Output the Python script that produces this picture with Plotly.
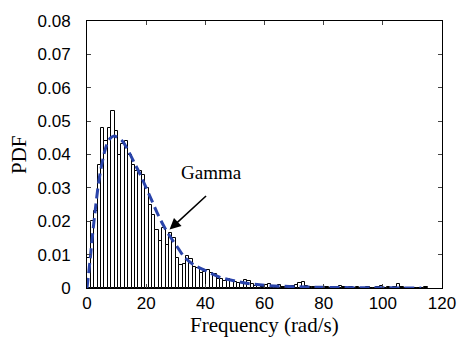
import numpy as np
import plotly.graph_objects as go

# ---- data ----
bin_start = 0.1
bin_width = 1.15
pdf_heights = [
    0.009, 0.020, 0.023, 0.037, 0.048, 0.044, 0.048, 0.053, 0.047, 0.040,
    0.043, 0.044, 0.040, 0.037, 0.035, 0.035, 0.034, 0.030, 0.025, 0.022,
    0.0175, 0.014, 0.018, 0.013, 0.0165, 0.015, 0.009, 0.007, 0.0072, 0.0096,
    0.0086, 0.0064, 0.0060, 0.0045, 0.0048, 0.0053, 0.0045, 0.0042, 0.0028, 0.0026,
    0.0021, 0.0026, 0.0020, 0.0017, 0.0015, 0.0014, 0.0024, 0.0021, 0.0013, 0.0006,
    0.0006, 0.0004, 0.0009, 0.0011, 0.0007, 0.0005, 0.0008, 0.0003, 0.0004, 0.0003,
    0.0005, 0.0008, 0.0016, 0.0018, 0.0006, 0.0003, 0.0004, 0.0002, 0.0003, 0.0004,
    0.0002, 0.0001, 0.0003, 0.0001, 0.0006, 0.0003, 0.0001, 0.0002, 0.0001, 0.0003,
    0.0001, 0.0000, 0.0002, 0.0001, 0.0001, 0.0002, 0.0005, 0.0001, 0.0002, 0.0001,
    0.0004, 0.0012, 0.0003, 0.0001, 0.0000, 0.0001, 0.0000, 0.0001, 0.0000, 0.0002,
]

gamma_x = [0, 1, 2, 3, 4, 5, 6, 7, 8, 9, 10, 12, 14, 16, 18, 20, 22, 24, 26, 28,
           30, 33, 36, 40, 45, 50, 55, 60, 70, 80, 90, 100, 113]
gamma_y = [0, 0.008, 0.017, 0.025, 0.032, 0.037, 0.041, 0.0437, 0.0450, 0.0455,
           0.0453, 0.0440, 0.0410, 0.0375, 0.0340, 0.0300, 0.0260, 0.0220, 0.0185,
           0.0155, 0.0130, 0.0092, 0.0070, 0.0052, 0.0032, 0.0021, 0.0013, 0.0008,
           0.0004, 0.0002, 0.0001, 0.00005, 0.00002]

x_ticks = [0, 20, 40, 60, 80, 100, 120]
y_ticks = [0, 0.01, 0.02, 0.03, 0.04, 0.05, 0.06, 0.07, 0.08]
y_tick_labels = ["0", "0.01", "0.02", "0.03", "0.04", "0.05", "0.06", "0.07", "0.08"]

curve_label = "Gamma"
x_title = "Frequency (rad/s)"
y_title = "PDF"

centers = bin_start + bin_width * (np.arange(len(pdf_heights)) + 0.5)

fig = go.Figure()
fig.add_trace(go.Bar(
    x=centers, y=pdf_heights, width=bin_width,
    marker=dict(color="white", line=dict(color="black", width=1)),
    showlegend=False,
))
fig.add_trace(go.Scatter(
    x=gamma_x, y=gamma_y, mode="lines",
    line=dict(color="#2a44aa", width=3, dash="10px,5px", shape="spline"),
    showlegend=False,
))

tick_font = dict(family="Liberation Sans, Arial", size=17, color="black")
fig.update_xaxes(
    range=[0, 120], tickvals=x_ticks, ticks="inside", ticklen=4,
    showline=True, linecolor="black", linewidth=1, mirror="ticks",
    showgrid=False, zeroline=False, tickfont=tick_font,
)
fig.update_yaxes(
    range=[0, 0.08], tickvals=y_ticks, ticktext=y_tick_labels, ticks="inside",
    ticklen=4, showline=True, linecolor="black", linewidth=1, mirror="ticks",
    showgrid=False, zeroline=False, tickfont=tick_font, ticklabelstandoff=12,
)

serif = "Liberation Serif, Times New Roman"
fig.add_annotation(
    x=27.9, y=0.0175, xref="x", yref="y", ax=38, ay=-35,
    showarrow=True, arrowhead=2, arrowsize=1.4, arrowwidth=1.6, arrowcolor="black",
    text="",
)
fig.add_annotation(
    x=42, y=0.0345, xref="x", yref="y", text=curve_label, showarrow=False,
    font=dict(family=serif, size=19, color="black"),
)
fig.add_annotation(
    x=0.5, y=-0.14, xref="paper", yref="paper", text=x_title, showarrow=False,
    font=dict(family=serif, size=21, color="black"), yanchor="middle", xanchor="center",
)
fig.add_annotation(
    x=-0.193, y=0.5, xref="paper", yref="paper", text=y_title, showarrow=False,
    textangle=-90, font=dict(family=serif, size=21, color="black"),
    xanchor="center", yanchor="middle",
)

fig.update_layout(
    width=468, height=349,
    margin=dict(l=87, r=23, t=15, b=61),
    paper_bgcolor="white", plot_bgcolor="white",
    bargap=0,
)
fig.write_html("out.html")
